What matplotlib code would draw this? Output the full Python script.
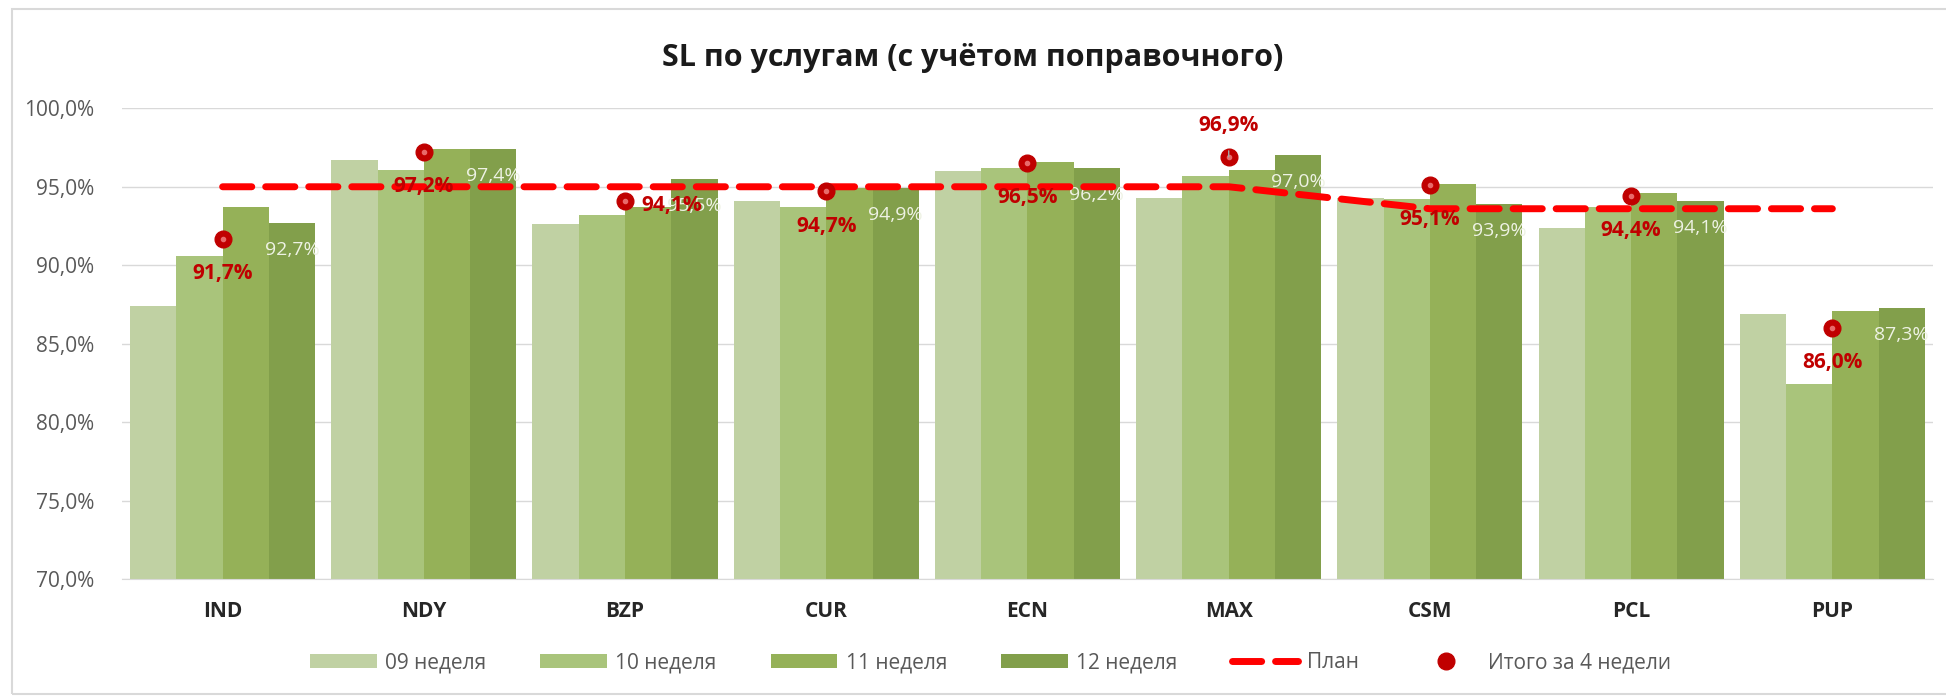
import numpy as np
import matplotlib
matplotlib.use("Agg")
import matplotlib.pyplot as plt
from matplotlib.patches import Rectangle

plt.rcParams['font.family'] = ['Open Sans', 'DejaVu Sans']

services = ['IND', 'NDY', 'BZP', 'CUR', 'ECN', 'MAX', 'CSM', 'PCL', 'PUP']
week09 = [87.4, 96.7, 92.6, 94.1, 96.0, 94.3, 94.3, 92.4, 86.9]
week10 = [90.6, 96.1, 93.2, 93.7, 96.2, 95.7, 94.2, 93.7, 82.4]
week11 = [93.7, 97.4, 93.7, 94.9, 96.6, 96.1, 95.2, 94.6, 87.1]
week12 = [92.7, 97.4, 95.5, 94.9, 96.2, 97.0, 93.9, 94.1, 87.3]
plan = [95.0, 95.0, 95.0, 95.0, 95.0, 95.0, 93.6, 93.6, 93.6]
total4 = [91.7, 97.2, 94.1, 94.7, 96.5, 96.9, 95.1, 94.4, 86.0]

week_names = ['09 неделя', '10 неделя', '11 неделя', '12 неделя']
colors = ['#c0d1a3', '#a9c47b', '#95b158', '#829f4b']

def pct(v):
    return f"{v:.1f}%".replace('.', ',')

fig = plt.figure(figsize=(19.46, 6.97), dpi=100)
ax = fig.add_axes([0.0627, 0.1693, 0.9306, 0.6753])

# chart border
fig.patches.append(Rectangle((12 / 1946, 0.004), 1.0, 1 - 9 / 697 - 0.004,
                             transform=fig.transFigure, fill=False,
                             edgecolor='#d9d9d9', lw=1.5))

x = np.arange(len(services))
w = 0.23
handles = []
for k, (vals, c, name) in enumerate(zip([week09, week10, week11, week12], colors, week_names)):
    b = ax.bar(x + (k - 1.5) * w, vals, width=w, color=c, label=name, zorder=2)
    handles.append(b)

# labels for week 12
for xi, v in zip(x, week12):
    ax.annotate(pct(v), (xi + 1.5 * w, v), xytext=(0, -19.5), textcoords='offset points',
                ha='center', va='center', fontsize=14, color='#eef2e4', zorder=3)

ln, = ax.plot(x, plan, color='#ff0000', lw=5, ls=(0, (4.2, 2.0)), label='План', zorder=4,
              dash_capstyle='round')
handles.append(ln)

mk, = ax.plot(x, total4, ls='none', marker='o', ms=12, color='#c00000', zorder=5,
              label='Итого за 4 недели')
handles.append(mk)
ax.plot(x, total4, ls='none', marker='o', ms=3, color='#e86a6a', zorder=6)

for i, (xi, v) in enumerate(zip(x, total4)):
    style = dict(fontsize=15, fontweight='bold', color='#c00000', zorder=7,
                 textcoords='offset points', va='center')
    if services[i] == 'BZP':
        ax.annotate(pct(v), (xi, v), xytext=(12, -3), ha='left', **style)
    elif services[i] == 'MAX':
        ax.annotate(pct(v), (xi, v), xytext=(0, 23), ha='center',
                    arrowprops=dict(arrowstyle='-', color='#a6a6a6', lw=1,
                                    shrinkA=9, shrinkB=5), **style)
    else:
        ax.annotate(pct(v), (xi, v), xytext=(0, -25), ha='center', **style)

ax.set_xlim(-0.5, len(services) - 0.5)
ax.set_ylim(70, 100)
yt = np.arange(70, 100.1, 5)
ax.set_yticks(yt)
ax.set_yticklabels([pct(t) for t in yt], fontsize=15, color='#595959')
ax.set_xticks(x)
ax.set_xticklabels(services, fontsize=15, fontweight='bold', color='#262626')
ax.tick_params(axis='both', length=0)
ax.tick_params(axis='x', pad=16)
ax.tick_params(axis='y', pad=20)
ax.grid(axis='y', color='#d9d9d9', lw=1, zorder=0)
ax.set_axisbelow(True)
for s in ['top', 'right', 'left']:
    ax.spines[s].set_visible(False)
ax.spines['bottom'].set_color('#d9d9d9')

fig.text(0.5, 0.917, 'SL по услугам (с учётом поправочного)', ha='center', va='center',
         fontsize=22, fontweight='bold', color='#1a1a1a')

fig.legend(handles, week_names + ['План', 'Итого за 4 недели'],
           loc='center', bbox_to_anchor=(0.509, 0.049), ncol=6, frameon=False,
           fontsize=15, labelcolor='#595959', handlelength=3.2, handleheight=0.6,
           columnspacing=2.6, handletextpad=0.4)

fig.savefig('out.png', dpi=100)
